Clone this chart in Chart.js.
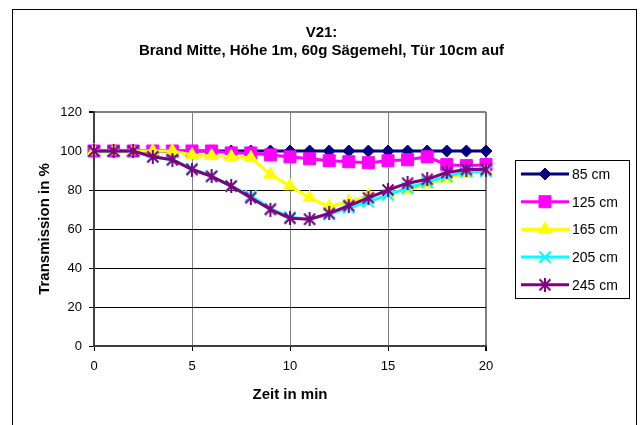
<!DOCTYPE html>
<html>
<head>
<meta charset="utf-8">
<script src="https://cdn.jsdelivr.net/npm/chart.js@4/dist/chart.umd.min.js"></script>
<style>
  html, body { margin: 0; padding: 0; background: #fff; }
  #wrap { width: 643px; height: 425px; }
</style>
</head>
<body>
<div id="wrap"><canvas id="chart" width="643" height="425"></canvas></div>
<script>
const minutes = [0, 1, 2, 3, 4, 5, 6, 7, 8, 9, 10, 11, 12, 13, 14, 15, 16, 17, 18, 19, 20];
const seriesNames = ["85 cm", "125 cm", "165 cm", "205 cm", "245 cm"];
const t85 = [100, 100, 100, 100, 100, 100, 100, 100, 100, 100, 100, 100, 100, 100, 100, 100, 100, 100, 100, 100, 100];
const t125 = [100, 100, 100, 100, 100, 100, 100, 99, 99, 98, 97, 96, 95, 94.5, 94, 95, 95.5, 97, 93, 92.5, 93];
const t165 = [100, 100, 100, 100, 100, 98, 97.5, 97, 96.5, 88, 82, 76, 71.5, 74, 77, 78.5, 80, 83, 86, 88.5, 89.5];
const t205 = [100, 100, 100, 97, 95.5, 91, 87, 82, 77, 70.5, 66, 65, 67.5, 71, 74, 77.5, 81, 84, 87, 89.5, 89.5];
const t245 = [100, 100, 100, 97, 95.5, 90.5, 87, 82, 76, 70, 65.5, 65, 68, 72, 76, 80, 83.5, 85.5, 89, 90.5, 90.5];
const xTicks = [0, 5, 10, 15, 20];
const yTicks = [0, 20, 40, 60, 80, 100, 120];

const FONT = "'Liberation Sans', Arial, sans-serif";

// excel style "*" marker: an x with a vertical bar
function asteriskMarker(color, size) {
  const c = document.createElement("canvas");
  c.width = size;
  c.height = size;
  const g = c.getContext("2d");
  g.strokeStyle = color;
  g.lineWidth = 2;
  g.beginPath();
  g.moveTo(1.5, 1.5); g.lineTo(size - 1.5, size - 1.5);
  g.moveTo(size - 1.5, 1.5); g.lineTo(1.5, size - 1.5);
  g.moveTo(size / 2, 0); g.lineTo(size / 2, size);
  g.stroke();
  return c;
}

const styles = [
  { color: "#000080", pointStyle: "rectRot", radius: 6 },
  { color: "#FF00FF", pointStyle: "rect", radius: 8.5 },
  { color: "#FFFF00", pointStyle: "triangle", radius: 7.5 },
  { color: "#00FFFF", pointStyle: "crossRot", radius: 8, width: 2 },
  { color: "#800080", pointStyle: asteriskMarker("#800080", 14), radius: 7 },
];

const values = [t85, t125, t165, t205, t245];

const datasets = values.map((vals, i) => ({
  label: seriesNames[i],
  data: vals.map((v, j) => ({ x: minutes[j], y: v })),
  borderColor: styles[i].color,
  backgroundColor: styles[i].color,
  borderWidth: 3,
  pointStyle: styles[i].pointStyle,
  pointRadius: styles[i].radius,
  pointHoverRadius: styles[i].radius,
  pointBorderWidth: styles[i].width || 1,
  pointBackgroundColor: styles[i].color,
  pointBorderColor: styles[i].color,
  tension: 0,
  clip: false,
  order: values.length - i,
}));

const frame = {
  id: "frame",
  beforeDraw(chart) {
    const ctx = chart.ctx;
    ctx.save();
    ctx.strokeStyle = "#000";
    ctx.lineWidth = 1;
    ctx.strokeRect(12.5, 9.5, 624, 500);
    ctx.restore();
  },
};

const sideLegend = {
  id: "sideLegend",
  afterDraw(chart) {
    const ctx = chart.ctx;
    ctx.save();
    ctx.strokeStyle = "#000";
    ctx.lineWidth = 1;
    ctx.strokeRect(515.5, 160.5, 114, 138);
    ctx.font = "14px " + FONT;
    ctx.textBaseline = "middle";
    ctx.fillStyle = "#000";
    chart.data.datasets.forEach((ds, i) => {
      const y = 174 + i * 27.7;
      ctx.strokeStyle = ds.borderColor;
      ctx.lineWidth = ds.borderWidth;
      ctx.beginPath();
      ctx.moveTo(521, y);
      ctx.lineTo(569, y);
      ctx.stroke();
      const pt = chart.getDatasetMeta(i).data[0];
      if (Chart.helpers && Chart.helpers.drawPoint && pt) {
        ctx.strokeStyle = ds.pointBorderColor;
        ctx.fillStyle = ds.pointBackgroundColor;
        ctx.lineWidth = ds.pointBorderWidth;
        Chart.helpers.drawPoint(ctx, pt.options, 545, y);
      }
      ctx.fillStyle = "#000";
      ctx.fillText(ds.label, 572, y + 1);
    });
    ctx.restore();
  },
};

new Chart(document.getElementById("chart"), {
  type: "line",
  data: { datasets },
  plugins: [frame, sideLegend],
  options: {
    responsive: false,
    animation: false,
    devicePixelRatio: 1,
    layout: { padding: { left: 0, right: 0, top: 0, bottom: 19 } },
    plugins: {
      legend: { display: false },
      tooltip: { enabled: false },
      title: {
        display: true,
        text: ["V21:", "Brand Mitte, Höhe 1m, 60g Sägemehl, Tür 10cm auf"],
        color: "#000",
        font: { family: FONT, size: 15, weight: "bold", lineHeight: "18px" },
        padding: { top: 24, bottom: 52 },
      },
    },
    scales: {
      x: {
        type: "linear",
        min: xTicks[0],
        max: xTicks[xTicks.length - 1],
        afterBuildTicks: (s) => { s.ticks = xTicks.map((v) => ({ value: v })); },
        afterFit: (s) => { s.height = 60; },
        grid: {
          color: "#808080",
          lineWidth: (c) => (c.tick && c.tick.value === 20 ? 2 : 1),
          tickColor: "#000",
          tickLength: 5,
        },
        border: { color: "#404040", width: 2 },
        ticks: { color: "#000", font: { family: FONT, size: 13 }, padding: 8, maxRotation: 0 },
        title: {
          display: true,
          text: "Zeit in min",
          color: "#000",
          font: { family: FONT, size: 15, weight: "bold" },
          padding: { top: 0, bottom: 2 },
        },
      },
      y: {
        min: yTicks[0],
        max: yTicks[yTicks.length - 1],
        afterBuildTicks: (s) => { s.ticks = yTicks.map((v) => ({ value: v })); },
        afterFit: (s) => { s.width = 94; },
        grid: {
          color: (c) => (c.tick && c.tick.value === 120 ? "#808080" : "#000"),
          lineWidth: (c) => (c.tick && c.tick.value === 120 ? 2 : 1),
          tickColor: "#000",
          tickLength: 5,
        },
        border: { color: "#404040", width: 2 },
        ticks: { color: "#000", font: { family: FONT, size: 13 }, padding: 7 },
        title: {
          display: true,
          text: "Transmission in %",
          color: "#000",
          font: { family: FONT, size: 15, weight: "bold" },
          padding: { top: 36, bottom: 0 },
        },
      },
      side: {
        type: "linear",
        position: "right",
        display: true,
        grid: { display: false, drawTicks: false },
        border: { display: false },
        ticks: { display: false },
        afterFit: (s) => { s.width = 157; },
      },
    },
  },
});
</script>
</body>
</html>
